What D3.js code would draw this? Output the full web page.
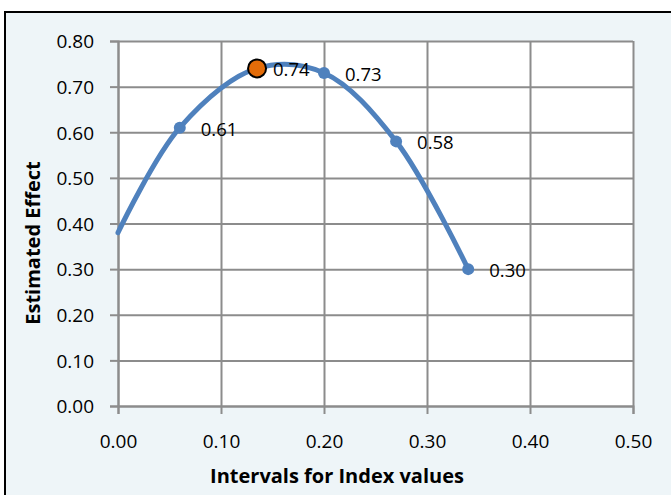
<!DOCTYPE html>
<html>
<head>
<meta charset="utf-8">
<script src="https://cdn.jsdelivr.net/npm/d3@7"></script>
<style>
  html, body { margin: 0; padding: 0; background: #ffffff; }
  svg { display: block; }
  text { font-family: "Open Sans", Lato, "Liberation Sans", sans-serif; fill: #000; }
</style>
</head>
<body>
<svg id="chart" width="671" height="495"></svg>
<script>
// Estimated effect across index intervals
const curveX = [0.00, 0.06, 0.135, 0.20, 0.27, 0.34];
const curveY = [0.38, 0.61, 0.74, 0.73, 0.58, 0.30];
const markerX = [0.06, 0.20, 0.27, 0.34];
const markerY = [0.61, 0.73, 0.58, 0.30];
const peakX = [0.135];
const peakY = [0.74];
const xTicks = [0.0, 0.1, 0.2, 0.3, 0.4, 0.5];
const yTicks = [0.0, 0.1, 0.2, 0.3, 0.4, 0.5, 0.6, 0.7, 0.8];
const xTitle = "Intervals for Index values";
const yTitle = "Estimated Effect";

const svg = d3.select("#chart");
const W = 671, H = 495;

// chart area background and frame
svg.append("rect")
  .attr("x", 5).attr("y", 12).attr("width", W + 10).attr("height", H + 10)
  .attr("fill", "#EEF5F8").attr("stroke", "#000").attr("stroke-width", 2);

const x = d3.scaleLinear().domain([0, 0.5]).range([118, 633]);
const y = d3.scaleLinear().domain([0, 0.8]).range([406, 41]);

// plot area
svg.append("rect")
  .attr("x", x(0)).attr("y", y(0.8))
  .attr("width", x(0.5) - x(0)).attr("height", y(0) - y(0.8))
  .attr("fill", "#ffffff");

const fmt = d3.format(".2f");
const gridColor = "#8c8c8c";
const tickFont = 19;

// y axis with horizontal gridlines
const yAxis = svg.append("g").attr("transform", `translate(${x(0)},0)`)
  .call(d3.axisLeft(y).tickValues(yTicks).tickFormat(fmt).tickSize(8).tickPadding(16));
yAxis.select(".domain").attr("stroke", gridColor).attr("stroke-width", 2);
yAxis.selectAll(".tick line").attr("stroke", gridColor).attr("stroke-width", 2);
yAxis.selectAll(".tick text").attr("font-size", tickFont).attr("dy", "0.36em")
  .attr("font-family", "'Open Sans', Lato, sans-serif");
yAxis.selectAll(".tick").append("line")
  .attr("x1", 0).attr("x2", x(0.5) - x(0))
  .attr("stroke", gridColor).attr("stroke-width", 2);

// x axis with vertical gridlines
const xAxis = svg.append("g").attr("transform", `translate(0,${y(0)})`)
  .call(d3.axisBottom(x).tickValues(xTicks).tickFormat(fmt).tickSize(8).tickPadding(21));
xAxis.select(".domain").attr("stroke", gridColor).attr("stroke-width", 2);
xAxis.selectAll(".tick line").attr("stroke", gridColor).attr("stroke-width", 2);
xAxis.selectAll(".tick text").attr("font-size", tickFont)
  .attr("font-family", "'Open Sans', Lato, sans-serif");
xAxis.selectAll(".tick").append("line")
  .attr("y1", 0).attr("y2", y(0.8) - y(0))
  .attr("stroke", gridColor).attr("stroke-width", 2);

// axis titles
svg.append("text")
  .attr("x", 337).attr("y", 483)
  .attr("text-anchor", "middle").attr("font-size", 20).attr("font-weight", "bold")
  .text(xTitle);
svg.append("text")
  .attr("transform", "translate(40,243) rotate(-90)")
  .attr("text-anchor", "middle").attr("font-size", 20).attr("font-weight", "bold")
  .text(yTitle);

// smoothed effect curve
const pts = curveX.map((v, i) => [v, curveY[i]]);
const line = d3.line().x(d => x(d[0])).y(d => y(d[1])).curve(d3.curveCatmullRom.alpha(0.5));
svg.append("path").datum(pts)
  .attr("d", line)
  .attr("fill", "none").attr("stroke", "#4F81BD").attr("stroke-width", 5)
  .attr("stroke-linecap", "round");

// markers
const mk = markerX.map((v, i) => [v, markerY[i]]);
svg.selectAll("circle.mk").data(mk).enter().append("circle")
  .attr("class", "mk")
  .attr("cx", d => x(d[0])).attr("cy", d => y(d[1])).attr("r", 6)
  .attr("fill", "#4F81BD");

const pk = peakX.map((v, i) => [v, peakY[i]]);
svg.selectAll("circle.pk").data(pk).enter().append("circle")
  .attr("class", "pk")
  .attr("cx", d => x(d[0])).attr("cy", d => y(d[1])).attr("r", 9)
  .attr("fill", "#E36C09").attr("stroke", "#000").attr("stroke-width", 2);

// value labels
svg.selectAll("text.vl").data(mk.concat(pk)).enter().append("text")
  .attr("class", "vl")
  .attr("x", d => x(d[0]) + (d[0] === peakX[0] ? 16 : 21))
  .attr("y", d => y(d[1]) + 8)
  .attr("font-size", 18.5)
  .text(d => fmt(d[1]));
</script>
</body>
</html>
